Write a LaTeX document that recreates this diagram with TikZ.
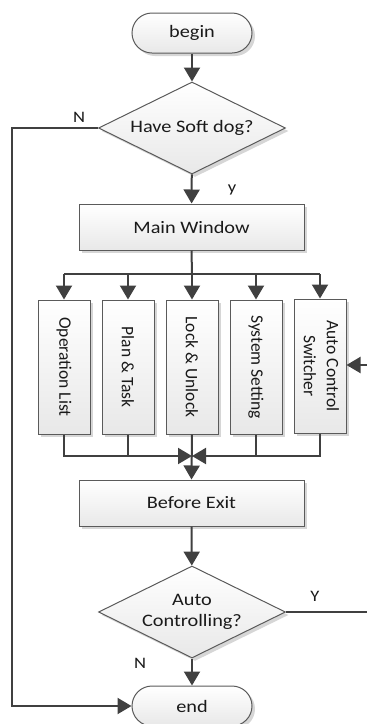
\documentclass[tikz,border=0pt]{standalone}
\usepackage{graphicx}
\usepackage{fontspec}
\setmainfont{Carlito}
\newfontfamily\widefont{Carlito}[FakeStretch=1.16]
\usetikzlibrary{shapes.geometric,arrows.meta,shadows}

\definecolor{linec}{HTML}{404040}
\definecolor{borderc}{HTML}{5A5A5A}
\definecolor{fillbot}{HTML}{E8E8E8}
\definecolor{shadowc}{HTML}{D6D6D6}
\definecolor{textc}{HTML}{1A1A1A}

\tikzset{
  shaded/.style={draw=borderc, line width=1pt, top color=white, bottom color=fillbot,
    drop shadow={shadow xshift=3pt, shadow yshift=-3pt, fill=shadowc, opacity=1},
    inner sep=0pt, text=textc},
  hfont/.style={font=\widefont\fontsize{17.5}{21}\selectfont, align=center},
  vfont/.style={font=\fontsize{17.5}{23}\selectfont},
  terminal/.style={shaded, hfont, rounded corners=20pt, minimum width=120pt, minimum height=40pt},
  process/.style={shaded, hfont, minimum width=225pt, minimum height=46pt},
  column/.style={shaded, vfont, minimum width=52pt, minimum height=134pt},
  decision/.style={shaded, hfont, diamond, aspect=2, minimum width=187pt, minimum height=92pt},
  conn/.style={draw=linec, line width=2pt},
  arr/.style={conn, -{Triangle[width=16pt,length=14pt]}},
  lbl/.style={font=\widefont\fontsize{16}{18}\selectfont, text=textc, inner sep=0pt}
}

\begin{document}
\begin{tikzpicture}[x=1pt, y=-1pt]
\useasboundingbox (0,0) rectangle (367,724);

% main flow
\node[terminal] (begin) at (192,33) {begin};
\node[decision] (dog) at (192,128) {Have Soft dog?};
\node[process] (main) at (191.5,227) {Main Window};

% module columns
\node[column] (op)   at (64,367)  {\rotatebox{-90}{Operation List}};
\node[column] (plan) at (128,367) {\rotatebox{-90}{Plan \& Task}};
\node[column] (lock) at (192,367) {\rotatebox{-90}{Lock \& Unlock}};
\node[column] (sys)  at (256,367) {\rotatebox{-90}{System Setting}};
\node[column] (auto) at (320,366) {\rotatebox{-90}{\begin{tabular}{@{}c@{}}Auto Control\\Switcher\end{tabular}}};

\node[process] (exit) at (191.5,503) {Before Exit};
\node[decision] (ctrl) at (192,612) {Auto\\Controlling?};
\node[terminal] (end) at (192,706) {end};

% bus coordinates
\coordinate (bus) at (192,274);
\coordinate (join) at (192,456);
\coordinate (farleft) at (12,0);
\coordinate (edgeY) at (367,612);
\coordinate (edgeIn) at (367,365);

% connectors
\draw[arr] (begin) -- (dog);
\draw[arr] (dog) -- (main);
\draw[conn] (main.south) -- (bus);
\draw[conn] (op.north |- bus) -- (auto.north |- bus);
\foreach \c in {op,plan,lock,sys,auto}
  \draw[arr] (\c.north |- bus) -- (\c.north);

\draw[arr] (op.south) |- (join);
\draw[conn] (plan.south) -- (plan.south |- join);
\draw[arr] (auto.south) |- (join);
\draw[conn] (sys.south) -- (sys.south |- join);
\draw[arr] (lock.south) -- (exit.north);

\draw[arr] (exit) -- (ctrl);
\draw[arr] (ctrl) -- (end);
\draw[conn] (ctrl.east) -- (edgeY);
\draw[arr] (edgeIn) -- (auto.east |- edgeIn);

\draw[arr] (dog.west) -- (farleft |- dog.west) -- (farleft |- end.west) -- (end.west);

% branch labels
\node[lbl] (nA) at (79,117) {N};
\node[lbl] (yA) at (232,190) {y};
\node[lbl] (yB) at (315,596) {Y};
\node[lbl] (nB) at (140,663) {N};
\end{tikzpicture}
\end{document}
